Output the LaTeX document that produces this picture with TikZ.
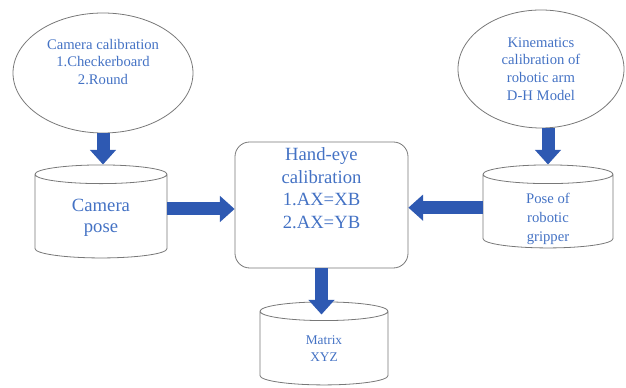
\documentclass[tikz,border=0pt]{standalone}
\usepackage{fontspec}
\setmainfont{Liberation Serif}
\usepackage{tikz}
\usetikzlibrary{arrows.meta, shapes.geometric}
\definecolor{textblue}{RGB}{68,114,196}
\definecolor{arrowblue}{RGB}{46,89,178}
\definecolor{linegray}{RGB}{120,120,120}

\tikzset{
  ellip/.style={ellipse, draw=linegray, line width=0.6pt},
  dbase/.style={cylinder, shape border rotate=90, aspect=2.1, draw=linegray, line width=0.6pt},
  procbox/.style={rectangle, rounded corners=11pt, draw=linegray, line width=0.6pt},
  lbl/.style={textblue, align=center, inner sep=0pt},
  bigarrow/.style={arrowblue, line width=9.75pt, -{Triangle[width=19pt, length=11pt]}}
}

\begin{document}
\begin{tikzpicture}[x=15pt, y=15pt]
  \useasboundingbox (0,0) rectangle (31.3,19.4);

  % shapes
  \node[ellip, minimum width=135pt, minimum height=90pt] (camcal) at (5.15,15.75) {};
  \node[ellip, minimum width=124.5pt, minimum height=88.5pt] (kincal) at (27.05,15.95) {};
  \node[dbase, minimum width=99pt, minimum height=69.75pt] (campose) at (5.05,8.5) {};
  \node[procbox, minimum width=129.75pt, minimum height=94.5pt] (handeye) at (16.075,9.15) {};
  \node[dbase, minimum width=97.5pt, minimum height=62.25pt] (gripper) at (27.4,8.75) {};
  \node[dbase, minimum width=96pt, minimum height=62.25pt] (matrix) at (16.2,1.9) {};

  % texts
  \node[lbl, font=\fontsize{11}{13}\selectfont] (camcal-t) at ([yshift=8.25pt]camcal.center)
    {Camera calibration\\1.Checkerboard\\2.Round};
  \node[lbl, font=\fontsize{11}{13.3}\selectfont] (kincal-t) at (kincal.center)
    {Kinematics\\calibration of\\robotic arm\\D-H Model};
  \node[lbl, font=\fontsize{14}{16}\selectfont] (campose-t) at (campose.center)
    {Camera\\pose};
  \node[lbl, font=\fontsize{14}{17}\selectfont] (handeye-t) at ([yshift=12.75pt]handeye.center)
    {Hand-eye\\calibration\\1.AX=XB\\2.AX=YB};
  \node[lbl, font=\fontsize{11}{14.5}\selectfont] (gripper-t) at ([yshift=-4.5pt]gripper.center)
    {Pose of\\robotic\\gripper};
  \node[lbl, font=\fontsize{10}{13}\selectfont] (matrix-t) at ([yshift=1pt]matrix.center)
    {Matrix\\XYZ};

  % arrows
  \draw[bigarrow] (camcal.south) -- (camcal.south |- campose.north);
  \draw[bigarrow] (kincal.south -| gripper.north) -- (gripper.north);
  \draw[bigarrow] ([yshift=-3pt]campose.east |- handeye.west) -- ([yshift=-3pt]handeye.west);
  \draw[bigarrow] ([yshift=-2pt]gripper.west |- handeye.east) -- ([yshift=-2pt]handeye.east);
  \draw[bigarrow] (handeye.south) -- ([yshift=-9.75pt]handeye.south |- matrix.north);
\end{tikzpicture}
\end{document}
